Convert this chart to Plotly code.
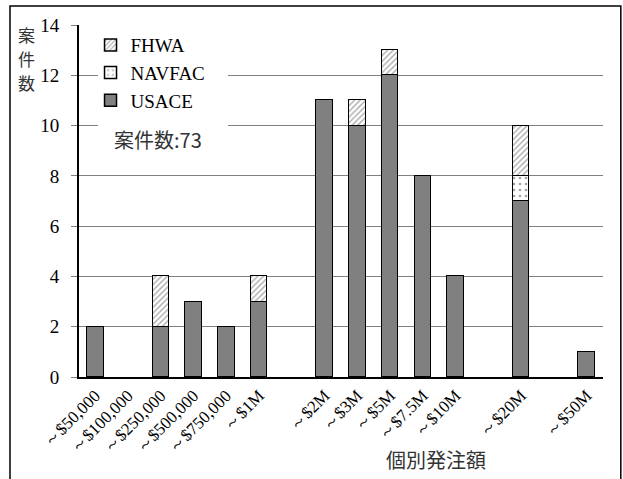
import plotly.graph_objects as go

categories = ["～$50,000", "～$100,000", "～$250,000", "～$500,000", "～$750,000", "～$1M", "",
              "～$2M", "～$3M", "～$5M", "～$7.5M", "～$10M", "", "～$20M", "", "～$50M"]
usace = [2, 0, 2, 3, 2, 3, 0, 11, 10, 12, 8, 4, 0, 7, 0, 1]
navfac = [0, 0, 0, 0, 0, 0, 0, 0, 0, 0, 0, 0, 0, 1, 0, 0]
fhwa = [0, 0, 2, 0, 0, 1, 0, 0, 1, 1, 0, 0, 0, 2, 0, 0]
y_ticks = [0, 2, 4, 6, 8, 10, 12, 14]

xpos = list(range(len(categories)))
SERIF = "Liberation Serif"
CJK = "Noto Sans CJK JP"

def nz(vals):
    return [v if v else None for v in vals]

fig = go.Figure()
fig.add_trace(go.Bar(x=xpos, y=nz(usace), name="USACE", width=0.5,
                     marker=dict(color="#808080", line=dict(color="black", width=1.5))))
fig.add_trace(go.Bar(x=xpos, y=nz(navfac), name="NAVFAC", width=0.5,
                     marker=dict(color="white", line=dict(color="black", width=1.5),
                                 pattern=dict(shape=".", fgcolor="#444444", bgcolor="white",
                                              size=6, solidity=0.15))))
fig.add_trace(go.Bar(x=xpos, y=nz(fhwa), name="FHWA", width=0.5,
                     marker=dict(color="white", line=dict(color="black", width=1.5),
                                 pattern=dict(shape="/", fgcolor="#555555", bgcolor="white",
                                              size=4, solidity=0.35))))

fig.update_layout(
    barmode="stack",
    width=623, height=479,
    margin=dict(l=79, r=20, t=25, b=102),
    paper_bgcolor="white", plot_bgcolor="white",
    font=dict(family=SERIF, color="black", size=15),
    bargap=0,
    legend=dict(x=0.022, y=0.997, xanchor="left", yanchor="top",
                traceorder="reversed", bgcolor="rgba(0,0,0,0)",
                font=dict(family=SERIF, size=19), itemwidth=30),
    xaxis=dict(range=[-0.5, 15.5], tickmode="array", tickvals=xpos, ticktext=categories,
               tickangle=-45, tickfont=dict(family=SERIF, size=17), showgrid=False,
               showline=True, linecolor="black", linewidth=2, ticks="", zeroline=False),
    yaxis=dict(range=[0, 14], tickmode="array", tickvals=y_ticks,
               tickfont=dict(family=SERIF, size=19), showgrid=True, gridcolor="#808080",
               gridwidth=1, showline=True, linecolor="black", linewidth=2,
               ticks="outside", ticklen=6, tickcolor="#808080", zeroline=False,
               ticklabelstandoff=8),
)

fig.add_shape(type="rect", xref="x", yref="y", x0=0.08, x1=4.05, y0=8.6, y1=13.7,
              fillcolor="white", line=dict(width=0), layer="between")

fig.add_annotation(x=0.063, xref="paper", y=9.45, yref="y", text="案件数:73",
                   showarrow=False, xanchor="left", yanchor="middle",
                   font=dict(family=CJK, size=20, color="#333333"))
fig.add_annotation(x=0.682, xref="paper", y=-0.235, yref="paper", text="個別発注額",
                   showarrow=False, xanchor="center", yanchor="middle",
                   font=dict(family=CJK, size=20, color="#333333"))
for i, ch in enumerate("案件数"):
    fig.add_annotation(x=-0.101, xref="paper", y=13.64 - i * 0.96, yref="y", text=ch,
                       showarrow=False, xanchor="center", yanchor="middle",
                       font=dict(family=CJK, size=17, color="#333333"))
fig.add_shape(type="rect", xref="paper", yref="paper", x0=-0.1317, x1=1.034,
              y0=-0.32, y1=1.054, line=dict(color="black", width=1.5),
              fillcolor="rgba(0,0,0,0)", layer="above")

fig.write_html("out.html", config={"displayModeBar": False},
               post_script="document.body.style.margin='0px';")
